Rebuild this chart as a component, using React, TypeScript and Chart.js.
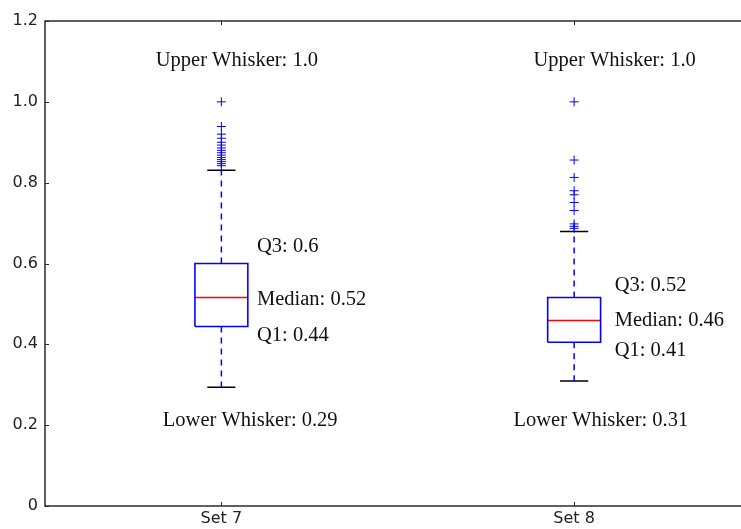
import React, { useEffect, useRef } from 'react';
import { Chart, registerables } from 'chart.js';

Chart.register(...registerables);

// ---- data ----
const categories = ['Set 7', 'Set 8'];
const positions = [1, 2];
const lowerWhisker = [0.294, 0.309];
const q1 = [0.444, 0.405];
const median = [0.516, 0.459];
const q3 = [0.6, 0.516];
const upperWhisker = [0.831, 0.679];
const outliersSet7 = [1.0, 0.939, 0.92, 0.91, 0.9, 0.893, 0.886, 0.88, 0.874, 0.868, 0.862, 0.857, 0.852, 0.847, 0.842];
const outliersSet8 = [1.0, 0.856, 0.813, 0.78, 0.77, 0.751, 0.731, 0.698, 0.692, 0.687];
const yTicks = [0, 0.2, 0.4, 0.6, 0.8, 1.0, 1.2];

const upperLabels = ['Upper Whisker: 1.0', 'Upper Whisker: 1.0'];
const q3Labels = ['Q3: 0.6', 'Q3: 0.52'];
const medianLabels = ['Median: 0.52', 'Median: 0.46'];
const q1Labels = ['Q1: 0.44', 'Q1: 0.41'];
const lowerLabels = ['Lower Whisker: 0.29', 'Lower Whisker: 0.31'];

// ---- style ----
const BOX_HALF = 0.075;
const CAP_HALF = 0.04;
const BLUE = '#0000ff';
const RED = '#ff0000';
const AXIS = '#2b2b2b';

const W = 756;
const H = 529;

function buildDatasets() {
  const ds: any[] = [];
  positions.forEach((p, i) => {
    ds.push({
      label: 'box' + i,
      data: [
        { x: p - BOX_HALF, y: q1[i] },
        { x: p + BOX_HALF, y: q1[i] },
        { x: p + BOX_HALF, y: q3[i] },
        { x: p - BOX_HALF, y: q3[i] },
        { x: p - BOX_HALF, y: q1[i] },
      ],
      showLine: true,
      borderColor: BLUE,
      borderWidth: 1.6,
      pointRadius: 0,
    });
    ds.push({
      label: 'median' + i,
      data: [
        { x: p - BOX_HALF, y: median[i] },
        { x: p + BOX_HALF, y: median[i] },
      ],
      showLine: true,
      borderColor: RED,
      borderWidth: 1.5,
      pointRadius: 0,
    });
    ds.push({
      label: 'whiskerUp' + i,
      data: [
        { x: p, y: q3[i] },
        { x: p, y: upperWhisker[i] },
      ],
      showLine: true,
      borderColor: BLUE,
      borderWidth: 1.5,
      borderDash: [6, 5],
      pointRadius: 0,
    });
    ds.push({
      label: 'whiskerDown' + i,
      data: [
        { x: p, y: q1[i] },
        { x: p, y: lowerWhisker[i] },
      ],
      showLine: true,
      borderColor: BLUE,
      borderWidth: 1.5,
      borderDash: [6, 5],
      pointRadius: 0,
    });
    ds.push({
      label: 'capUp' + i,
      data: [
        { x: p - CAP_HALF, y: upperWhisker[i] },
        { x: p + CAP_HALF, y: upperWhisker[i] },
      ],
      showLine: true,
      borderColor: '#000',
      borderWidth: 1.5,
      pointRadius: 0,
    });
    ds.push({
      label: 'capDown' + i,
      data: [
        { x: p - CAP_HALF, y: lowerWhisker[i] },
        { x: p + CAP_HALF, y: lowerWhisker[i] },
      ],
      showLine: true,
      borderColor: '#000',
      borderWidth: 1.5,
      pointRadius: 0,
    });
  });
  const outs = [outliersSet7, outliersSet8];
  outs.forEach((arr, i) => {
    ds.push({
      label: 'outliers' + i,
      data: arr.map((v) => ({ x: positions[i], y: v })),
      showLine: false,
      pointStyle: 'cross',
      pointRadius: 4.5,
      pointBorderColor: BLUE,
      pointBorderWidth: 1,
      borderColor: BLUE,
    });
  });
  return ds;
}

// annotation anchors in data coordinates (left-aligned, vertically centered)
const annotations = [
  { texts: upperLabels, xs: [0.814, 1.885], ys: [1.101, 1.101] },
  { texts: q3Labels, xs: [1.101, 2.115], ys: [0.642, 0.546] },
  { texts: medianLabels, xs: [1.101, 2.115], ys: [0.511, 0.459] },
  { texts: q1Labels, xs: [1.101, 2.115], ys: [0.422, 0.385] },
  { texts: lowerLabels, xs: [0.834, 1.828], ys: [0.212, 0.212] },
];

const framePlugin = {
  id: 'framePlugin',
  afterDraw(chart: any) {
    const { ctx, chartArea, scales } = chart;
    const xs = scales.x;
    const ys = scales.y;
    ctx.save();
    // annotations
    ctx.fillStyle = '#111';
    ctx.font = '20.5px "Liberation Serif", "Times New Roman", serif';
    ctx.textAlign = 'left';
    ctx.textBaseline = 'middle';
    annotations.forEach((a) => {
      a.texts.forEach((t, i) => {
        ctx.fillText(t, xs.getPixelForValue(a.xs[i]), ys.getPixelForValue(a.ys[i]));
      });
    });
    // frame
    ctx.strokeStyle = AXIS;
    ctx.lineWidth = 1.5;
    ctx.strokeRect(chartArea.left, chartArea.top, chartArea.right - chartArea.left, chartArea.bottom - chartArea.top);
    // inward ticks
    ctx.lineWidth = 1;
    const tl = 4;
    ys.ticks.forEach((t: any) => {
      const py = Math.round(ys.getPixelForValue(t.value)) + 0.5;
      ctx.beginPath();
      ctx.moveTo(chartArea.left, py);
      ctx.lineTo(chartArea.left + tl, py);
      ctx.moveTo(chartArea.right, py);
      ctx.lineTo(chartArea.right - tl, py);
      ctx.stroke();
    });
    xs.ticks.forEach((t: any) => {
      const px = Math.round(xs.getPixelForValue(t.value)) + 0.5;
      ctx.beginPath();
      ctx.moveTo(px, chartArea.bottom);
      ctx.lineTo(px, chartArea.bottom - tl);
      ctx.moveTo(px, chartArea.top);
      ctx.lineTo(px, chartArea.top + tl);
      ctx.stroke();
    });
    ctx.restore();
  },
};

export default function App() {
  const ref = useRef<HTMLCanvasElement | null>(null);
  useEffect(() => {
    if (!ref.current) return;
    const chart = new Chart(ref.current, {
      type: 'scatter',
      data: { datasets: buildDatasets() },
      options: {
        animation: false,
        responsive: false,
        maintainAspectRatio: false,
        devicePixelRatio: 1,
        layout: { padding: { left: 0, top: 21, right: 2.5, bottom: 0 } },
        plugins: { legend: { display: false }, tooltip: { enabled: false } },
        scales: {
          x: {
            type: 'linear',
            min: 0.5,
            max: 2.5,
            grid: { display: false, drawTicks: false },
            border: { display: false },
            afterBuildTicks: (scale: any) => {
              scale.ticks = positions.map((v) => ({ value: v }));
            },
            afterFit: (scale: any) => {
              scale.height = H - 506;
            },
            ticks: {
              autoSkip: false,
              maxRotation: 0,
              padding: 3,
              color: '#222',
              font: { family: '"DejaVu Sans", sans-serif', size: 16 },
              callback: (v: any) => categories[positions.indexOf(Number(v))] ?? '',
            },
          },
          y: {
            type: 'linear',
            min: 0,
            max: 1.2,
            grid: { display: false, drawTicks: false },
            border: { display: false },
            afterBuildTicks: (scale: any) => {
              scale.ticks = yTicks.map((v) => ({ value: v }));
            },
            afterFit: (scale: any) => {
              scale.width = 45;
            },
            ticks: {
              padding: 7,
              color: '#222',
              font: { family: '"DejaVu Sans", sans-serif', size: 16 },
              callback: (v: any) => (Number(v) === 0 ? '0' : Number(v).toFixed(1)),
            },
          },
        },
      },
      plugins: [framePlugin],
    });
    return () => chart.destroy();
  }, []);

  return (
    <div style={{ position: 'fixed', left: 0, top: 0, width: 741, height: 529, overflow: 'hidden', background: '#fff' }}>
      <canvas ref={ref} width={W} height={H} style={{ width: W, height: H, display: 'block' }} />
    </div>
  );
}
